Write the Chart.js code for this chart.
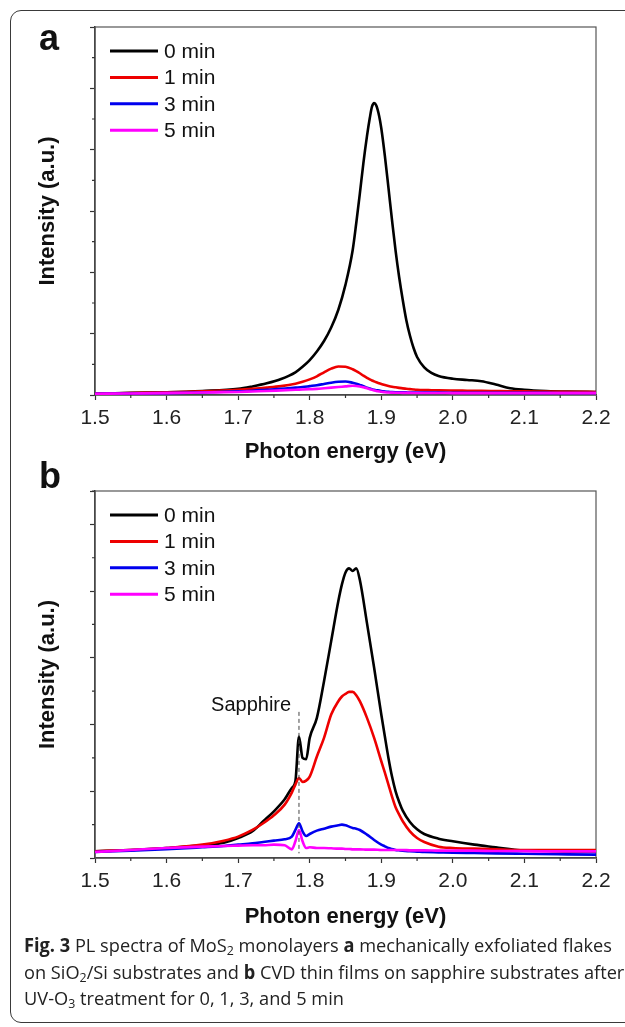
<!DOCTYPE html>
<html>
<head>
<meta charset="utf-8">
<script src="https://cdn.jsdelivr.net/npm/chart.js@4.4.0/dist/chart.umd.min.js"></script>
<style>
  body { margin: 0; background: #fff; width: 625px; height: 1027px; overflow: hidden; position: relative;
         font-family: "Liberation Sans", Arial, sans-serif; }
  .frame { position: absolute; left: 10px; top: 10px; width: 700px; height: 1011px;
           border: 1.5px solid #3a3a3a; border-radius: 11px; }
  .panel { position: absolute; left: 0; }
  .tag { position: absolute; font-weight: bold; font-size: 36px; color: #111; line-height: 1; }
  .caption { position: absolute; left: 24px; top: 932px; color: #222; font-size: 19px; line-height: 26.5px;
             font-family: "Open Sans", "Noto Sans", sans-serif; white-space: nowrap; transform-origin: 0 0; }
  .caption div { width: max-content; }
  .caption sub { font-size: 0.68em; vertical-align: -0.25em; line-height: 0; }
</style>
</head>
<body>
<div class="frame"></div>
<canvas id="chartA" class="panel" width="625" height="465" style="top:0"></canvas>
<canvas id="chartB" class="panel" width="625" height="470" style="top:460px"></canvas>
<div class="tag" style="left:39px;top:20px">a</div>
<div class="tag" style="left:39px;top:458px">b</div>
<div class="caption" id="caption">
  <div id="capLine1"><b>Fig. 3</b> PL spectra of MoS<sub>2</sub> monolayers <b>a</b> mechanically exfoliated flakes</div>
  <div>on SiO<sub>2</sub>/Si substrates and <b>b</b> CVD thin films on sapphire substrates after</div>
  <div>UV-O<sub>3</sub> treatment for 0, 1, 3, and 5 min</div>
</div>
<script>
// series labels and colours
const seriesLabels = ["0 min", "1 min", "3 min", "5 min"];
const seriesColors = ["#000000", "#ee0000", "#0000ee", "#ff00ff"];

// panel a: exfoliated flakes on SiO2/Si
const energyA = [1.50, 1.55, 1.60, 1.65, 1.70, 1.72, 1.74, 1.76, 1.78, 1.79, 1.80, 1.81, 1.82, 1.83, 1.84,
  1.85, 1.86, 1.865, 1.87, 1.875, 1.88, 1.884, 1.887, 1.89, 1.893, 1.897, 1.90, 1.905, 1.91, 1.915, 1.92,
  1.925, 1.93, 1.935, 1.94, 1.945, 1.95, 1.96, 1.97, 1.98, 2.00, 2.02, 2.04, 2.06, 2.08, 2.10, 2.13, 2.16, 2.20];
const a0 = [0.02, 0.035, 0.045, 0.065, 0.10, 0.14, 0.19, 0.26, 0.37, 0.46, 0.57, 0.71, 0.88, 1.10, 1.39,
  1.80, 2.36, 2.80, 3.28, 3.78, 4.22, 4.52, 4.70, 4.76, 4.72, 4.55, 4.35, 3.90, 3.38, 2.85, 2.35,
  1.92, 1.55, 1.22, 0.97, 0.77, 0.62, 0.45, 0.36, 0.31, 0.265, 0.245, 0.225, 0.17, 0.11, 0.085, 0.065, 0.055, 0.05];
const a1 = [0.02, 0.03, 0.045, 0.06, 0.085, 0.10, 0.12, 0.145, 0.185, 0.215, 0.255, 0.305, 0.37, 0.43, 0.465,
  0.46, 0.42, 0.39, 0.355, 0.315, 0.28, 0.255, 0.237, 0.222, 0.208, 0.192, 0.18, 0.163, 0.148, 0.135, 0.125,
  0.116, 0.108, 0.102, 0.096, 0.09, 0.085, 0.08, 0.078, 0.075, 0.072, 0.07, 0.068, 0.065, 0.062, 0.06, 0.055, 0.052, 0.05];
const a3 = [0.02, 0.025, 0.03, 0.04, 0.06, 0.07, 0.085, 0.10, 0.12, 0.13, 0.145, 0.16, 0.18, 0.20, 0.215,
  0.22, 0.20, 0.185, 0.165, 0.145, 0.12, 0.105, 0.095, 0.085, 0.078, 0.072, 0.065, 0.058, 0.052, 0.048, 0.046,
  0.045, 0.043, 0.042, 0.041, 0.0405, 0.04, 0.04, 0.039, 0.038, 0.037, 0.036, 0.036, 0.035, 0.035, 0.034, 0.034, 0.033, 0.033];
const a5 = [0.02, 0.025, 0.03, 0.04, 0.05, 0.058, 0.065, 0.075, 0.085, 0.09, 0.095, 0.10, 0.11, 0.12, 0.13,
  0.14, 0.15, 0.148, 0.14, 0.125, 0.11, 0.095, 0.085, 0.075, 0.066, 0.058, 0.052, 0.046, 0.041, 0.038, 0.036,
  0.0355, 0.035, 0.0345, 0.034, 0.0335, 0.033, 0.033, 0.032, 0.032, 0.031, 0.031, 0.03, 0.03, 0.03, 0.03, 0.03, 0.03, 0.03];

// panel b: CVD films on sapphire
const energyB = [1.50, 1.55, 1.60, 1.65, 1.68, 1.70, 1.72, 1.735, 1.75, 1.765, 1.775, 1.78, 1.785, 1.79,
  1.795, 1.80, 1.81, 1.82, 1.83, 1.84, 1.845, 1.85, 1.855, 1.86, 1.865, 1.87, 1.88, 1.89, 1.90, 1.905,
  1.91, 1.915, 1.92, 1.925, 1.93, 1.94, 1.95, 1.96, 1.98, 2.00, 2.03, 2.06, 2.09, 2.12, 2.16, 2.20];
const b0 = [0.10, 0.12, 0.15, 0.19, 0.23, 0.30, 0.40, 0.55, 0.70, 0.88, 1.05, 1.15, 1.82, 1.50,
  1.48, 1.80, 2.10, 2.65, 3.25, 3.85, 4.10, 4.28, 4.34, 4.30, 4.34, 4.17, 3.52, 2.85, 2.15, 1.82,
  1.50, 1.22, 1.00, 0.84, 0.71, 0.54, 0.43, 0.36, 0.29, 0.25, 0.20, 0.16, 0.12, 0.11, 0.10, 0.10];
const b1 = [0.10, 0.12, 0.15, 0.20, 0.26, 0.32, 0.42, 0.52, 0.64, 0.80, 0.98, 1.10, 1.20, 1.14,
  1.16, 1.22, 1.52, 1.80, 2.15, 2.35, 2.42, 2.46, 2.49, 2.49, 2.44, 2.35, 2.10, 1.80, 1.45, 1.28,
  1.10, 0.92, 0.76, 0.65, 0.55, 0.40, 0.30, 0.24, 0.17, 0.15, 0.14, 0.13, 0.12, 0.12, 0.12, 0.12];
const b3 = [0.09, 0.11, 0.13, 0.16, 0.18, 0.20, 0.22, 0.24, 0.26, 0.28, 0.32, 0.42, 0.52, 0.40,
  0.33, 0.36, 0.41, 0.44, 0.47, 0.49, 0.50, 0.49, 0.47, 0.45, 0.44, 0.42, 0.35, 0.27, 0.20, 0.175,
  0.15, 0.135, 0.12, 0.115, 0.11, 0.10, 0.095, 0.09, 0.085, 0.08, 0.075, 0.07, 0.065, 0.06, 0.055, 0.05];
const b5 = [0.09, 0.12, 0.15, 0.17, 0.18, 0.185, 0.19, 0.19, 0.20, 0.19, 0.13, 0.25, 0.42, 0.25,
  0.15, 0.16, 0.15, 0.15, 0.145, 0.14, 0.14, 0.135, 0.135, 0.13, 0.13, 0.13, 0.125, 0.125, 0.12, 0.12,
  0.12, 0.12, 0.12, 0.12, 0.12, 0.115, 0.115, 0.115, 0.11, 0.11, 0.11, 0.105, 0.105, 0.10, 0.10, 0.10];

const xTicks = [1.5, 1.6, 1.7, 1.8, 1.9, 2.0, 2.1, 2.2];
const sapphire = { label: "Sapphire", x: 1.785, yTop: 2.19, yBottom: 0.07, labelX: 1.774, labelY: 2.28 };

const FONT = "'Liberation Sans', Arial, sans-serif";

const frameAndTicks = {
  id: "frameAndTicks",
  beforeDatasetsDraw(chart) {
    const { ctx, chartArea: a } = chart;
    ctx.save();
    ctx.strokeStyle = "#555";
    ctx.lineWidth = 1.2;
    ctx.strokeRect(a.left, a.top, a.right - a.left, a.bottom - a.top);
    ctx.restore();
  },
  afterDraw(chart) {
    const { ctx, chartArea: a, scales: { x, y } } = chart;
    ctx.save();
    ctx.strokeStyle = "#333";
    ctx.lineWidth = 1.2;
    ctx.beginPath();
    for (let i = 0; i < xTicks.length - 1; i++) {
      const px = x.getPixelForValue((xTicks[i] + xTicks[i + 1]) / 2);
      ctx.moveTo(px, a.bottom); ctx.lineTo(px, a.bottom + 3);
    }
    for (let v = 0.5; v <= y.max; v += 1) {
      const py = y.getPixelForValue(v);
      ctx.moveTo(a.left, py); ctx.lineTo(a.left - 3, py);
    }
    ctx.stroke();

    // legend in the upper left of the plot, in series order
    ctx.font = "21px " + FONT;
    ctx.textBaseline = "middle";
    seriesLabels.forEach((label, i) => {
      const ly = a.top + 24 + i * 26.4;
      ctx.strokeStyle = seriesColors[i];
      ctx.lineWidth = 3;
      ctx.beginPath(); ctx.moveTo(a.left + 15, ly); ctx.lineTo(a.left + 63, ly); ctx.stroke();
      ctx.fillStyle = "#111";
      ctx.fillText(label, a.left + 69, ly + 1);
    });
    ctx.restore();
  }
};

const sapphireMark = {
  id: "sapphireMark",
  afterDatasetsDraw(chart) {
    const { ctx, scales: { x, y } } = chart;
    ctx.save();
    ctx.strokeStyle = "#444";
    ctx.lineWidth = 1;
    ctx.setLineDash([4, 3]);
    const px = x.getPixelForValue(sapphire.x);
    ctx.beginPath();
    ctx.moveTo(px, y.getPixelForValue(sapphire.yTop));
    ctx.lineTo(px, y.getPixelForValue(sapphire.yBottom));
    ctx.stroke();
    ctx.setLineDash([]);
    ctx.fillStyle = "#111";
    ctx.font = "20px " + FONT;
    ctx.textAlign = "right";
    ctx.textBaseline = "middle";
    ctx.fillText(sapphire.label, x.getPixelForValue(sapphire.labelX), y.getPixelForValue(sapphire.labelY));
    ctx.restore();
  }
};

function makeChart(id, energy, series, yMax, padTop, xAxisHeight, extraPlugins) {
  const datasets = series.map((vals, i) => ({
    label: seriesLabels[i],
    data: energy.map((e, j) => ({ x: e, y: vals[j] })),
    borderColor: seriesColors[i],
    backgroundColor: seriesColors[i],
    borderWidth: 2.6,
    pointRadius: 0,
    cubicInterpolationMode: "monotone"
  }));
  // draw 0 min on top, as in the figure
  datasets.reverse();
  return new Chart(document.getElementById(id), {
    type: "line",
    data: { datasets },
    options: {
      responsive: false,
      animation: false,
      layout: { padding: { top: padTop, right: 29, left: 0, bottom: 0 } },
      plugins: { legend: { display: false }, tooltip: { enabled: false } },
      scales: {
        x: {
          type: "linear", min: 1.5, max: 2.2,
          afterBuildTicks: s => { s.ticks = xTicks.map(v => ({ value: v })); },
          afterFit: s => { s.height = xAxisHeight; },
          ticks: { callback: v => v.toFixed(1), color: "#222", padding: 6,
                   font: { family: FONT, size: 21 } },
          grid: { drawOnChartArea: false, tickLength: 5, tickColor: "#333", tickWidth: 1.2 },
          border: { color: "#333", width: 1.5 },
          title: { display: true, text: "Photon energy (eV)", color: "#111", padding: { top: 0, bottom: 0 },
                   font: { family: FONT, size: 22, weight: "bold" } }
        },
        y: {
          min: 0, max: yMax,
          afterFit: s => { s.width = 95; },
          ticks: { stepSize: 1, display: false },
          grid: { drawOnChartArea: false, tickLength: 5, tickColor: "#333", tickWidth: 1.2 },
          border: { color: "#333", width: 1.5 },
          title: { display: true, text: "Intensity (a.u.)", color: "#111", padding: { top: 35, bottom: 0 },
                   font: { family: FONT, size: 22, weight: "bold" } }
        }
      }
    },
    plugins: [frameAndTicks].concat(extraPlugins)
  });
}

makeChart("chartA", energyA, [a0, a1, a3, a5], 6, 27, 70, []);
makeChart("chartB", energyB, [b0, b1, b3, b5], 5.5, 31, 72, [sapphireMark]);

// squeeze the caption to the width of the figure, like the condensed face of the original
const cap = document.getElementById("caption");
const w = document.getElementById("capLine1").getBoundingClientRect().width;
cap.style.transform = "scaleX(" + (588 / w) + ")";
</script>
</body>
</html>
